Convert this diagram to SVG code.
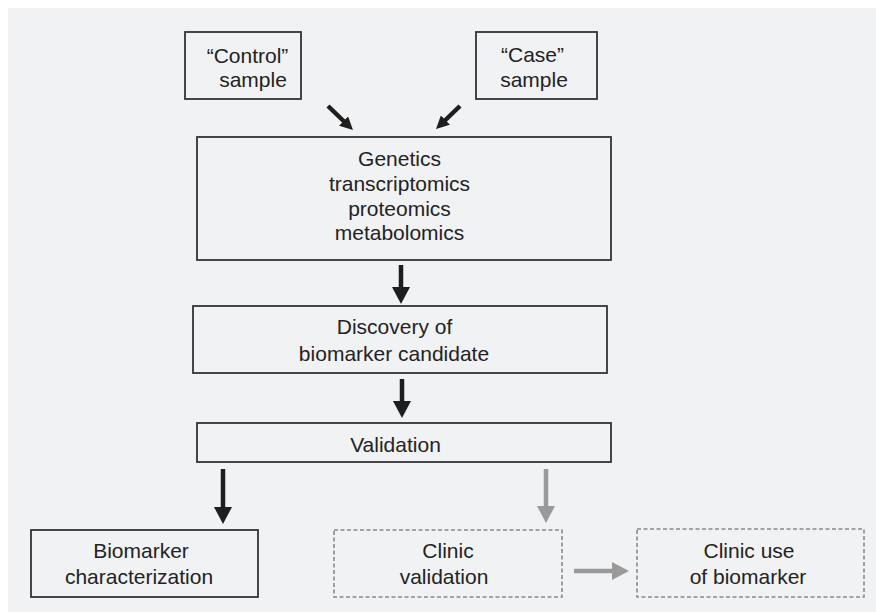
<svg xmlns="http://www.w3.org/2000/svg" width="876" height="612" viewBox="0 0 876 612">
  <style>
    .box { fill: none; stroke: #333333; stroke-width: 1.8; }
    .dbox { fill: none; stroke: #8a8a8a; stroke-width: 1.6; stroke-dasharray: 4 2.5; }
    .t { font-family: "Liberation Sans", Arial, sans-serif; font-size: 21px; fill: #232323; text-anchor: middle; }
    .blk { stroke: #1e1e1e; stroke-width: 4.5; fill: none; }
    .gry { stroke: #9a9a9a; stroke-width: 4.5; fill: none; }
  </style>
  <defs>
    <marker id="bigB" markerUnits="userSpaceOnUse" viewBox="0 0 17 18" markerWidth="17" markerHeight="18" refX="7" refY="9" orient="auto">
      <path d="M0,0 L17,9 L0,18 Z" fill="#1e1e1e"/>
    </marker>
    <marker id="smB" markerUnits="userSpaceOnUse" viewBox="0 0 13 13" markerWidth="13" markerHeight="13" refX="5" refY="6.5" orient="auto">
      <path d="M0,0 L13,6.5 L0,13 Z" fill="#1e1e1e"/>
    </marker>
    <marker id="bigG" markerUnits="userSpaceOnUse" viewBox="0 0 17 18" markerWidth="17" markerHeight="18" refX="7" refY="9" orient="auto">
      <path d="M0,0 L17,9 L0,18 Z" fill="#9a9a9a"/>
    </marker>
  </defs>
  <rect x="0" y="0" width="876" height="612" fill="#ffffff"/>
  <rect x="8" y="8" width="868" height="604" fill="#f1f2f4"/>

  <g id="control">
    <rect class="box" x="185" y="32" width="116" height="67"/>
    <text class="t" x="247.5" y="63">“Control”</text>
    <text class="t" x="253" y="87">sample</text>
  </g>
  <g id="case">
    <rect class="box" x="476" y="32" width="121" height="67"/>
    <text class="t" x="532.5" y="62">“Case”</text>
    <text class="t" x="534" y="87">sample</text>
  </g>
  <g id="omics">
    <rect class="box" x="197" y="137" width="414" height="123"/>
    <text class="t" x="399.5" y="166">Genetics</text>
    <text class="t" x="399.5" y="191">transcriptomics</text>
    <text class="t" x="399.5" y="216">proteomics</text>
    <text class="t" x="399.5" y="240">metabolomics</text>
  </g>
  <g id="discovery">
    <rect class="box" x="193" y="306" width="414" height="67"/>
    <text class="t" x="394.5" y="334">Discovery of</text>
    <text class="t" x="394" y="361">biomarker candidate</text>
  </g>
  <g id="validation">
    <rect class="box" x="197" y="423" width="414" height="39"/>
    <text class="t" x="395.5" y="452">Validation</text>
  </g>
  <g id="characterization">
    <rect class="box" x="31" y="530" width="227" height="67"/>
    <text class="t" x="141" y="558">Biomarker</text>
    <text class="t" x="139" y="584">characterization</text>
  </g>
  <g id="clinic-validation">
    <rect class="dbox" x="334" y="530" width="228" height="67"/>
    <text class="t" x="448" y="558">Clinic</text>
    <text class="t" x="444" y="584">validation</text>
  </g>
  <g id="clinic-use">
    <rect class="dbox" x="637" y="529" width="227" height="68"/>
    <text class="t" x="749" y="558">Clinic use</text>
    <text class="t" x="748" y="584">of biomarker</text>
  </g>

  <g id="connectors">
    <line class="blk" x1="328" y1="106" x2="347.2" y2="124.5" marker-end="url(#smB)"/>
    <line class="blk" x1="460" y1="106" x2="441.8" y2="123.5" marker-end="url(#smB)"/>
    <line class="blk" x1="401" y1="265" x2="401" y2="294" marker-end="url(#bigB)"/>
    <line class="blk" x1="402" y1="379" x2="402" y2="408" marker-end="url(#bigB)"/>
    <line class="blk" x1="223" y1="469" x2="223" y2="514" marker-end="url(#bigB)"/>
    <line class="gry" x1="546" y1="469" x2="546" y2="513" marker-end="url(#bigG)"/>
    <line class="gry" x1="574" y1="571" x2="619" y2="571" marker-end="url(#bigG)"/>
  </g>
</svg>
